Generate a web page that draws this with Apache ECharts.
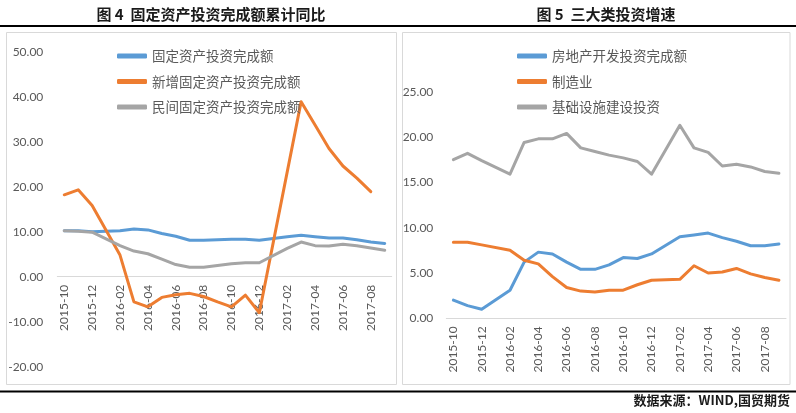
<!DOCTYPE html>
<html>
<head>
<meta charset="utf-8">
<title>固定资产投资</title>
<script src="https://cdn.jsdelivr.net/npm/echarts@6/dist/echarts.min.js"></script>
<style>
  html, body { margin: 0; padding: 0; background: #fff; }
  #chart { width: 796px; height: 413px; }
</style>
</head>
<body>
<div id="chart"></div>
<script>
// 2015-10 ~ 2017-09, no January data -> null, line connects across
let months = ["2015-10", "2015-11", "2015-12", "2016-01", "2016-02", "2016-03", "2016-04", "2016-05",
  "2016-06", "2016-07", "2016-08", "2016-09", "2016-10", "2016-11", "2016-12", "2017-01",
  "2017-02", "2017-03", "2017-04", "2017-05", "2017-06", "2017-07", "2017-08", "2017-09"];

// 图4
let fixedInvest = [10.2, 10.2, 10.0, null, 10.2, 10.6, 10.4, 9.6, 9.0, 8.1, 8.1, 8.2,
  8.3, 8.3, 8.1, null, 8.9, 9.2, 8.9, 8.6, 8.6, 8.2, 7.7, 7.4];
let newFixedInvest = [18.2, 19.3, 15.8, null, 4.8, -5.6, -6.7, -4.6, -4.0, -3.7, -4.4, -5.6,
  -6.7, -4.1, -8.0, null, null, 38.9, 33.7, 28.5, 24.6, 21.9, 18.9, null];
let privateInvest = [10.2, 10.1, 9.9, null, 6.9, 5.7, 5.1, 3.9, 2.7, 2.1, 2.1, 2.5,
  2.9, 3.1, 3.1, null, 6.3, 7.7, 6.9, 6.8, 7.2, 6.9, 6.4, 5.9];

// 图5
let realEstate = [2.0, 1.4, 1.0, null, 3.1, 6.2, 7.3, 7.1, 6.2, 5.4, 5.4, 5.9,
  6.7, 6.6, 7.1, null, 9.0, 9.2, 9.4, 8.9, 8.5, 8.0, 8.0, 8.2];
let manufacturing = [8.4, 8.4, 8.1, null, 7.5, 6.4, 6.0, 4.6, 3.4, 3.0, 2.9, 3.1,
  3.1, 3.7, 4.2, null, 4.3, 5.8, 5.0, 5.1, 5.5, 4.9, 4.5, 4.2];
let infrastructure = [17.5, 18.2, 17.4, null, 15.9, 19.4, 19.8, 19.8, 20.4, 18.8, 18.4, 18.0,
  17.7, 17.3, 15.9, null, 21.3, 18.8, 18.3, 16.8, 17.0, 16.7, 16.2, 16.0];

let leftTicks = [-20, -10, 0, 10, 20, 30, 40, 50];
let rightTicks = [0, 5, 10, 15, 20, 25];

let leftNames = ["固定资产投资完成额", "新增固定资产投资完成额", "民间固定资产投资完成额"];
let rightNames = ["房地产开发投资完成额", "制造业", "基础设施建设投资"];

const BLUE = "#5B9BD5";
const ORANGE = "#ED7D31";
const GRAY = "#A5A5A5";
const AXIS = "#D9D9D9";
const LABEL = "#595959";

const leftGrid = { left: 57.3, top: 51.7, width: 334.4, height: 315 };
const rightGrid = { left: 446.3, top: 91.7, width: 339.7, height: 226.6 };

// category axis sits on value 0: shift it up from the grid bottom
function zeroOffset(grid, ticks) {
  let lo = ticks[0];
  let hi = ticks[ticks.length - 1];
  return -grid.height * (0 - lo) / (hi - lo);
}

function line(name, data, color, idx) {
  return {
    name: name,
    type: "line",
    xAxisIndex: idx,
    yAxisIndex: idx,
    data: data,
    connectNulls: true,
    showSymbol: false,
    symbol: "none",
    smooth: false,
    itemStyle: { color: color },
    lineStyle: { color: color, width: 3, cap: "round", join: "round" },
  };
}

function xAxis(idx, offset) {
  return {
    type: "category",
    gridIndex: idx,
    data: months,
    position: "bottom",
    offset: offset,
    boundaryGap: true,
    axisLine: { onZero: false, lineStyle: { color: AXIS, width: 1 } },
    axisTick: { interval: 1, length: 5, lineStyle: { color: AXIS } },
    axisLabel: {
      interval: 1,
      rotate: 90,
      margin: 8,
      color: LABEL,
      fontSize: 12,
      fontFamily: "Lato",
    },
    splitLine: { show: false },
  };
}

function yAxis(idx, ticks, margin) {
  return {
    type: "value",
    gridIndex: idx,
    min: ticks[0],
    max: ticks[ticks.length - 1],
    interval: ticks[1] - ticks[0],
    axisLine: { show: false },
    axisTick: { show: false },
    splitLine: { show: false },
    axisLabel: {
      margin: margin,
      color: LABEL,
      fontSize: 12,
      fontFamily: "Lato",
      formatter: (v) => v.toFixed(2),
    },
  };
}

function legend(names, left) {
  return {
    data: names,
    orient: "vertical",
    left: left,
    top: 43,
    icon: "roundRect",
    itemWidth: 30,
    itemHeight: 5,
    itemGap: 9.5,
    selectedMode: false,
    textStyle: {
      color: LABEL,
      fontSize: 13.5,
      lineHeight: 16,
      fontFamily: "Noto Sans CJK SC",
    },
  };
}

const titleFont = 'bold 15px "Noto Sans CJK SC"';

const chart = echarts.init(document.getElementById("chart"), null, { renderer: "canvas" });
chart.setOption({
  backgroundColor: "#fff",
  animation: false,
  grid: [leftGrid, rightGrid],
  xAxis: [xAxis(0, zeroOffset(leftGrid, leftTicks)), xAxis(1, zeroOffset(rightGrid, rightTicks))],
  yAxis: [yAxis(0, leftTicks, 14), yAxis(1, rightTicks, 13)],
  legend: [legend(leftNames, 112), legend(rightNames, 512)],
  graphic: [
    { type: "line", shape: { x1: 0, y1: 26, x2: 796, y2: 26 }, style: { stroke: "#000", lineWidth: 2 } },
    { type: "line", shape: { x1: 0, y1: 391.5, x2: 796, y2: 391.5 }, style: { stroke: "#000", lineWidth: 2 } },
    { type: "rect", shape: { x: 6.5, y: 32.5, width: 390, height: 352 }, style: { fill: "none", stroke: AXIS, lineWidth: 1 } },
    { type: "rect", shape: { x: 402.5, y: 32.5, width: 387.5, height: 352 }, style: { fill: "none", stroke: AXIS, lineWidth: 1 } },
    {
      type: "text", x: 211, y: 14,
      style: { text: "图 4  固定资产投资完成额累计同比", align: "center", verticalAlign: "middle", font: titleFont, fill: "#1a1a1a" },
    },
    {
      type: "text", x: 606, y: 14,
      style: { text: "图 5  三大类投资增速", align: "center", verticalAlign: "middle", font: titleFont, fill: "#1a1a1a" },
    },
    {
      type: "text", x: 790, y: 400,
      style: { text: "数据来源：WIND,国贸期货", align: "right", verticalAlign: "middle", font: 'bold 13px "Noto Sans CJK SC"', fill: "#1a1a1a" },
    },
  ],
  series: [
    line(leftNames[0], fixedInvest, BLUE, 0),
    line(leftNames[1], newFixedInvest, ORANGE, 0),
    line(leftNames[2], privateInvest, GRAY, 0),
    line(rightNames[0], realEstate, BLUE, 1),
    line(rightNames[1], manufacturing, ORANGE, 1),
    line(rightNames[2], infrastructure, GRAY, 1),
  ],
});
</script>
</body>
</html>
